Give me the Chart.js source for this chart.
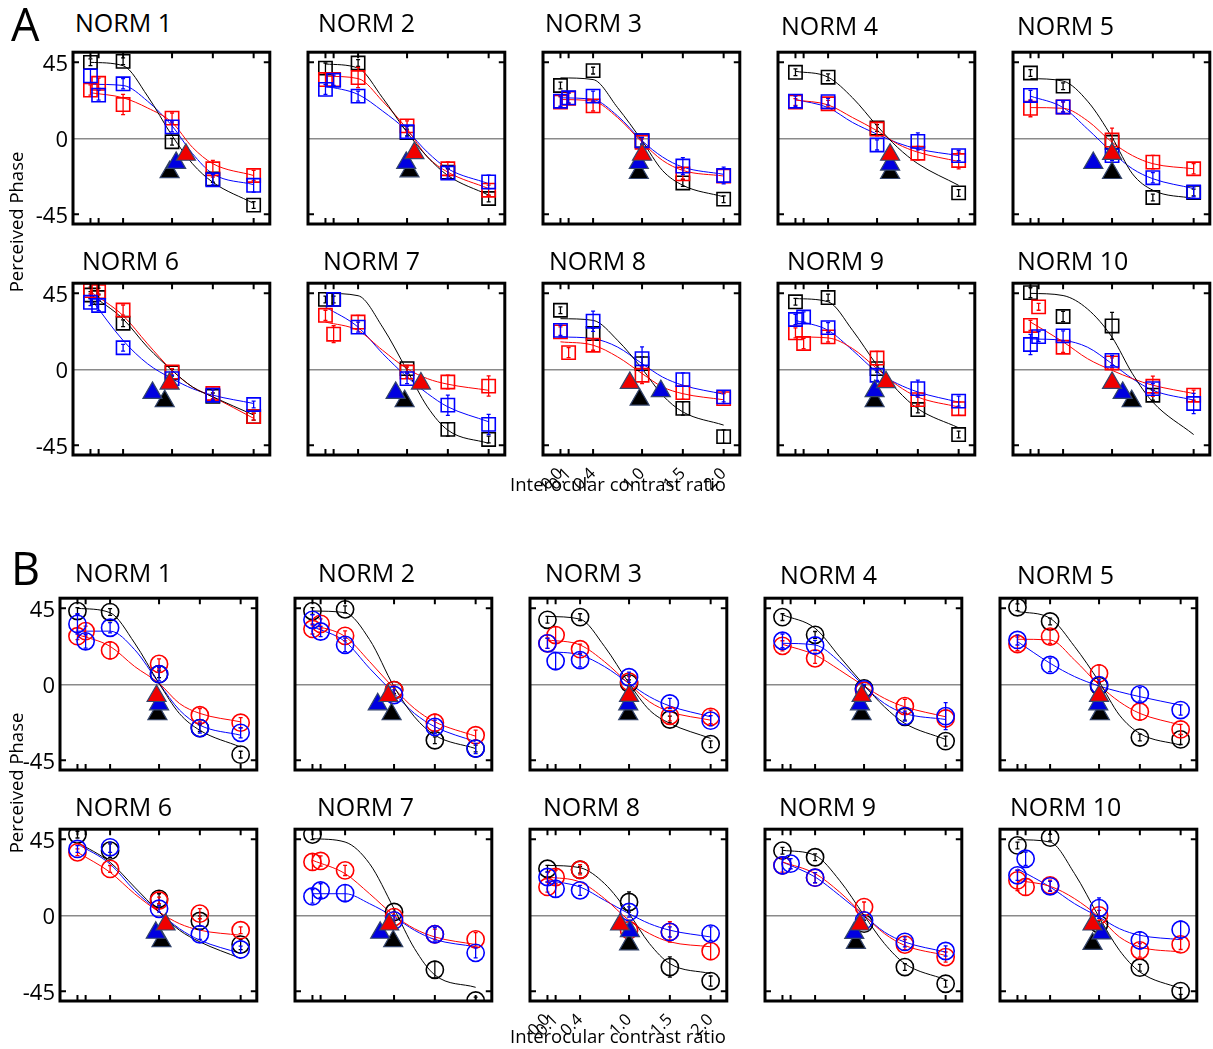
<!DOCTYPE html>
<html>
<head>
<meta charset="utf-8">
<script src="https://cdn.jsdelivr.net/npm/chart.js@4.4.1/dist/chart.umd.min.js"></script>
<style>
  body { margin: 0; background: #fff; }
  #page { position: relative; width: 1213px; height: 1049px; overflow: hidden; font-family: 'Open Sans', sans-serif; color: #000; }
  #page canvas { position: absolute; }
  .txt { position: absolute; white-space: nowrap; line-height: 1; }
</style>
</head>
<body>
<div id="page"></div>
<script>
// x levels (interocular contrast ratio) and the fitted-curve sample points
const contrastRatios = [0, 0.1, 0.4, 1.0, 1.5, 2.0];
const tickLabels = ['0.0', '0.1', '0.4', '1.0', '1.5', '2.0'];
const fitRatios = [0, 0.4, 0.7, 1.0, 1.25, 1.5, 2.0];
const phaseTicks = [-45, 0, 45];
const panelNames = ['NORM 1', 'NORM 2', 'NORM 3', 'NORM 4', 'NORM 5', 'NORM 6', 'NORM 7', 'NORM 8', 'NORM 9', 'NORM 10'];

// ---- panel A (squares) ----
const aBlack = [
  [45, null, 45.6, -2, -24, -39.5],
  [41.6, null, 44.6, 3.5, -20, -35.6],
  [31.3, null, 40.1, -1.4, -26.4, -36],
  [39.1, null, 36.2, 6.1, null, -32.3],
  [38.7, null, 30.9, -2.3, -35, -32.1],
  [44, 42.5, 27.3, -2, -16, -28],
  [41.4, 41.4, null, 0.4, -35.5, -41.5],
  [35, null, 21.2, 3.4, -23.1, -39.8],
  [40, null, 42.5, 0.4, -23.8, -38.6],
  [45.4, null, 31.3, 25.7, -15.3, null]
];
const aRed = [
  [28.6, 32.6, 20, 12, -18, -22],
  [34.8, 34.8, 36, 7.4, -18, -30.7],
  [21.5, 23.7, 19.2, -2.3, -21, -22.3],
  [21.5, null, 20.5, 5.5, -8.8, -13.1],
  [17.8, null, 18.6, -1, -14.1, -18],
  [46.6, 46, 35.1, -1.6, -14.3, -28],
  [32, 20.8, 28, -1.6, -7.5, -9.9],
  [22.2, 9.9, 14.3, -3.5, -13.8, -17.3],
  [21.6, 15.3, 19.2, 6.7, -17.9, -23.3],
  [26, 37, 13.1, 3.8, -10, -15.3]
];
const aBlue = [
  [37, 25.6, 32.3, 6.8, -24.5, -27.8],
  [29, 34.4, 25, 3.9, -20.5, -25.8],
  [22, 24, 25, -1.4, -16.4, -22],
  [22, null, 21.7, -3.9, -1.8, -10.2],
  [25.4, null, 18.6, -10.2, -23.3, -31.7],
  [39.7, 37.8, 12.8, -5.5, -15.3, -20.8],
  [null, 41.4, 25, -5.5, -21.2, -32.6],
  [23.1, null, 28.5, 6.3, -6.1, -16.3],
  [29.5, 31, 24.7, -3.5, -11.4, -18.8],
  [14.7, 19.4, 19.8, 5.3, -11.4, -20.2]
];
const aBlackErr = [
  [2, 2, 2, 2, 2, 2], [3, 2, 2, 2, 2, 2], [2, 2, 2, 2, 2, 2], [2, 2, 2, 2, 2, 2], [2, 2, 2, 2, 2, 2],
  [2, 2, 2, 2, 2, 2], [2, 2, 2, 2, 4, 2], [2, 2, 3, 4, 4, 4], [2, 2, 2, 2, 2, 2], [3, 2, 3, 8, 3, 2]
];
const aRedErr = [
  [3, 3, 6, 3, 5, 3], [4, 4, 6, 3, 4, 3], [3, 3, 3, 2, 3, 4], [2, 2, 2, 4, 4, 5], [5, 4, 3, 7, 4, 3],
  [2, 2, 3, 2, 3, 2], [3, 5, 4, 3, 4, 6], [3, 3, 3, 5, 4, 3], [3, 3, 3, 4, 3, 4], [3, 2, 3, 3, 6, 3]
];
const aBlueErr = [
  [4, 3, 3, 3, 3, 4], [3, 3, 3, 3, 3, 4], [3, 3, 3, 2, 5, 5], [3, 2, 2, 3, 5, 3], [3, 2, 3, 3, 3, 3],
  [2, 3, 2, 2, 3, 2], [3, 4, 3, 3, 6, 6], [3, 3, 6, 7, 4, 3], [3, 3, 3, 3, 5, 3], [6, 3, 3, 3, 3, 6]
];
const aBlackFit = [
  [45, 43, 25, 1.6, -15, -26, -38.5],
  [44, 41.6, 24, 3.5, -11, -22, -33.6],
  [35.8, 34.8, 18.2, -1.4, -19, -27.8, -34.6],
  [39.7, 36.2, 24, 7.4, -5.3, -15, -27.8],
  [35.4, 33.9, 22, 0.6, -21, -30.7, -35.6],
  [44.5, 29.8, 13.1, -0.6, -10.4, -16.3, -27],
  [45, 43.6, 25, -0.6, -22.2, -36, -43.8],
  [30, 29, 17.2, 0.4, -15.3, -25.2, -33],
  [41.9, 40, 23.1, 2.4, -12.4, -23.3, -34.6],
  [45, 43.7, 35.7, 19, -2.6, -19.4, -38.6]
];
const aRedFit = [
  [27, 24, 18, 9.4, -5.3, -15, -22],
  [36.8, 35.4, 22, 5.5, -11, -20, -29.7],
  [23, 22, 12.3, -2.3, -13, -19, -22.3],
  [22.7, 19.8, 12.3, 4.5, -3.3, -8.2, -13.7],
  [18.2, 17.8, 10.4, -2.3, -10.2, -15, -18],
  [46, 31.8, 15.1, -0.6, -10.4, -16.3, -29],
  [28, 23, 11.3, 0.4, -5.5, -8.8, -12.4],
  [16.3, 14.3, 7.4, -2.5, -10.4, -14.4, -18],
  [19.2, 18.6, 12.3, 0.4, -9.5, -16.4, -22.3],
  [28, 16.3, 6.3, -0.6, -5.5, -9.4, -14.3]
];
const aBlueFit = [
  [32, 31.3, 22, 7.4, -9, -21, -27.4],
  [31, 26, 16.2, 4.5, -8.2, -18, -26.8],
  [24, 23, 13.3, -1.4, -11, -17, -21.3],
  [23, 18.2, 9.4, 2.5, -2.7, -6.3, -10.2],
  [25, 18.2, 5.5, -8.2, -18, -23.9, -29.7],
  [42.1, 17.1, 3.3, -5.5, -11.4, -15.3, -20.2],
  [36.9, 25, 9.4, -4.5, -14.3, -22.2, -31],
  [19.2, 18.2, 13.2, 3.4, -4.5, -9.4, -14.7],
  [29, 23.1, 11.3, -1.6, -8.5, -13.4, -19.4],
  [18, 17.2, 13.1, 3.3, -5.5, -12.4, -18.2]
];
// triangles: [black, blue, red]
const aTriX = [
  [0.97, 1.05, 1.17], [1.03, 0.99, 1.09], [0.96, 0.96, 1.0], [1.16, 1.16, 1.16], [1.0, 0.77, 1.0],
  [0.91, 0.76, 0.97], [0.97, 0.86, 1.17], [0.97, 1.23, 0.85], [0.97, 0.97, 1.11], [1.24, 1.13, 1.0]
];
const aTriY = [
  [-20, -14.5, -9.7], [-19.5, -14.5, -8.7], [-20.5, -14.6, -9.7], [-20.5, -15.5, -9.7], [-20.5, -14.6, -9.2],
  [-18.8, -13.9, -8.4], [-18.8, -13.9, -8.4], [-17.9, -12.9, -8], [-18.8, -12.9, -7.6], [-18.8, -13.9, -8]
];

// ---- panel B (circles) ----
const bBlack = [
  [43.4, null, 42.8, 6, -25.9, -41.6],
  [43.4, null, 44.4, -3.4, -33.1, -38],
  [38.2, null, 39.8, 0.6, -20.8, -35.4],
  [39.8, null, 29.3, -2.4, -19.2, -33.6],
  [45.6, null, 37.2, -1, -31.5, -32.6],
  [47.8, null, 38.3, 9.8, -3.3, -17.3],
  [47.8, null, null, 2, -32.2, -50.4],
  [27.6, null, 27, 7.9, -30.6, -38.9],
  [38.3, null, 34.4, -4.9, -30.6, -40.5],
  [41.4, null, 46, -5.3, -31, -44.8]
];
const bRed = [
  [28.5, 31.5, 20.1, 12.1, -18.3, -22.7],
  [32.8, 35.8, 28.7, -3.4, -22.7, -30.1],
  [24.3, 29.2, 20.8, 1.6, -18.6, -19.2],
  [22.8, null, 15.4, -3.8, -12.9, -20.2],
  [23.9, null, 28.3, 6.5, -16.2, -26.7],
  [37.3, null, 27.5, 8.8, 1, -8.8],
  [31.6, 32.2, 26.6, -1, -11.2, -14.2],
  [16.8, 22.7, 27, -8.8, -9.8, -21.2],
  [29.6, null, 22.3, 4.9, -17.3, -24.7],
  [20.7, 16.8, 17.8, 0, -20.7, -17.2]
];
const bBlue = [
  [35.8, 25.5, 33.5, 6, -25.9, -28.7],
  [38.2, 31.3, 23.4, -6.3, -25.2, -38],
  [24.3, 13.8, 14.4, 4.2, -11.3, -21.5],
  [25.8, null, 23, -3, -18.8, -18.8],
  [26.3, null, 11.5, -0.4, -5.9, -15.2],
  [39.3, null, 40.3, 3.9, -11.2, -20.2],
  [11.2, 14.7, 13.2, -3, -11.2, -22.2],
  [22.7, 15.7, 14.8, 2, -9.8, -10.8],
  [29.6, 30.6, 22.3, -3, -15.7, -21.1],
  [23.7, 33.5, 17.2, 4.3, -14.8, -8.5]
];
const bBlackErr = [
  [2, 2, 2, 2, 2, 2], [2, 2, 2, 2, 2, 2], [2, 2, 2, 2, 2, 2], [2, 2, 2, 2, 2, 3], [2, 2, 2, 2, 2, 3],
  [2, 2, 4, 3, 3, 3], [3, 2, 2, 2, 5, 2], [2, 2, 2, 6, 6, 3], [2, 2, 2, 2, 2, 2], [2, 2, 2, 2, 2, 2]
];
const bRedErr = [
  [2, 3, 5, 3, 4, 3], [3, 3, 3, 3, 5, 3], [3, 5, 3, 3, 3, 4], [3, 3, 3, 2, 4, 5], [4, 3, 4, 5, 5, 3],
  [2, 2, 2, 2, 3, 2], [5, 3, 3, 3, 3, 4], [3, 4, 3, 3, 6, 5], [4, 3, 3, 3, 3, 3], [6, 5, 3, 3, 4, 3]
];
const bBlueErr = [
  [6, 4, 3, 4, 3, 3], [3, 3, 4, 3, 4, 3], [3, 5, 4, 3, 3, 3], [4, 3, 3, 3, 3, 8], [3, 3, 4, 3, 4, 3],
  [2, 2, 3, 2, 3, 2], [4, 4, 5, 3, 4, 3], [3, 5, 3, 3, 3, 4], [5, 3, 3, 3, 3, 3], [3, 4, 3, 6, 5, 5]
];
const bBlackFit = [
  [45, 42.4, 24.5, 0.6, -17.3, -27.2, -37.1],
  [43.4, 42.4, 26.5, -1.4, -19.2, -30.1, -38],
  [40.2, 38.6, 22.4, 0.6, -15.2, -23.1, -32],
  [41.2, 33.2, 16.4, -0.4, -13.3, -23.1, -32.6],
  [43.1, 39.1, 22.4, 1.6, -18.2, -29.1, -36],
  [43.2, 31.4, 16.7, 2, -8.8, -15.7, -25.5],
  [45.4, 43.4, 30.6, 3.9, -19.6, -35.3, -42.6],
  [29.6, 28.2, 18.8, 1, -16.7, -28.6, -34.5],
  [38.5, 35.5, 20.7, 0, -16.7, -28.6, -38.1],
  [44.8, 43.4, 24.7, -1, -20.7, -33.5, -43.4]
];
const bRedFit = [
  [29.5, 22.5, 10.6, 0.6, -11.3, -17.2, -22.2],
  [35.2, 28.3, 13.5, -2.4, -14.3, -22.2, -30.7],
  [26.3, 23.3, 13.4, 0.2, -10.3, -16.2, -21.2],
  [23.7, 17.4, 8.5, -1, -8.3, -13.3, -19.2],
  [26.7, 26.3, 14.4, -0.4, -10.3, -17.2, -24.1],
  [37.3, 25.5, 12.8, 2, -4.9, -8.8, -11.8],
  [32.6, 24.7, 12.8, 0, -7.9, -12.8, -17.3],
  [22.7, 19.7, 9.9, -3, -10.8, -15.7, -18.6],
  [31.6, 24.7, 13.8, 0, -10.8, -17.8, -23.7],
  [20.7, 17.2, 9.9, -1, -12.8, -18.7, -21.7]
];
const bBlueFit = [
  [31.5, 31.5, 20.6, 0.6, -15.2, -24.2, -30.1],
  [34.2, 25.3, 9.5, -5.4, -17.2, -25.1, -34],
  [19.4, 17.4, 10.5, 0.6, -7.3, -12.8, -19.2],
  [24.3, 23.3, 13.4, -1, -11.3, -17.2, -20.8],
  [25.3, 12.5, 4.6, -1, -4.4, -7.3, -12.3],
  [42.2, 30.4, 14.7, 2, -7.9, -14.7, -22.6],
  [12.8, 12.8, 6.9, -1, -8.8, -14.3, -18.6],
  [20.7, 16.8, 8.9, 1, -4.9, -8.8, -12.8],
  [31.6, 22.7, 11.8, 0, -9.9, -15.8, -21.7],
  [27.6, 16.8, 6.9, -1, -7.9, -11.8, -14.4]
];
const bTriX = [
  [0.98, 1.0, 0.97], [0.97, 0.8, 0.93], [0.99, 0.99, 1.0], [0.97, 0.95, 0.97], [1.01, 0.99, 1.0],
  [1.03, 0.96, 1.08], [0.99, 0.83, 0.94], [1.0, 1.01, 0.89], [0.9, 0.88, 0.95], [0.92, 1.03, 0.92]
];
const bTriY = [
  [-17.7, -11.8, -6.9], [-17.7, -11.8, -6.9], [-17.7, -11.8, -6.8], [-17.7, -11.8, -6.8], [-17.7, -11.8, -6.8],
  [-15.3, -10.3, -5.4], [-15.3, -10.3, -5.4], [-17.2, -9.4, -5.4], [-16.3, -10.4, -5.4], [-16.9, -10.7, -5.4]
];

// ---- layout ----
const BOX_W = 197, BOX_H = 172, PITCH = 235;
const PAD_L = 30, PAD_R = 12, PAD_T = 12, AXIS_H = 40;
const X_MIN = -0.214, X_MAX = 2.198, Y_MIN = -50.7, Y_MAX = 51;

const lineColors = { black: '#000000', red: '#ff0000', blue: '#0000ff' };
const triColors = { black: '#000000', blue: '#0000e0', red: '#f00000' };

const figures = {
  A: {
    marker: 'rect', radius: 9.4, left: 73, tops: [52, 283],
    pts: { black: aBlack, red: aRed, blue: aBlue },
    err: { black: aBlackErr, red: aRedErr, blue: aBlueErr },
    fit: { black: aBlackFit, red: aRedFit, blue: aBlueFit },
    triX: aTriX, triY: aTriY,
    titleX: [75, 318, 545, 781, 1017, 82, 323, 549, 787, 1017],
    titleTop: [14, 14, 14, 17, 17, 252, 252, 252, 252, 252],
    letterTop: 9, yTitleY: 222, xTitleY: 484
  },
  B: {
    marker: 'circle', radius: 8.6, left: 60, tops: [598, 829],
    pts: { black: bBlack, red: bRed, blue: bBlue },
    err: { black: bBlackErr, red: bRedErr, blue: bBlueErr },
    fit: { black: bBlackFit, red: bRedFit, blue: bBlueFit },
    triX: bTriX, triY: bTriY,
    titleX: [75, 318, 545, 780, 1017, 75, 317, 543, 779, 1010],
    titleTop: [564, 564, 564, 566, 566, 798, 798, 798, 798, 798],
    letterTop: 553, yTitleY: 783, xTitleY: 1036
  }
};

Chart.defaults.font.family = "'Open Sans', sans-serif";
Chart.defaults.color = '#000';

const page = document.getElementById('page');

function addText(str, style) {
  const d = document.createElement('div');
  d.className = 'txt';
  d.textContent = str;
  Object.assign(d.style, style);
  page.appendChild(d);
  return d;
}

// error bars drawn right after their marker dataset
const errorBars = {
  id: 'errorBars',
  afterDatasetDraw(chart, args) {
    const ds = chart.data.datasets[args.index];
    if (!ds.errors) return;
    const { ctx, chartArea: a } = chart;
    const y = chart.scales.y;
    ctx.save();
    ctx.beginPath();
    ctx.rect(a.left, a.top, a.width, a.height);
    ctx.clip();
    ctx.strokeStyle = ds.borderColor;
    ctx.lineWidth = 1.3;
    args.meta.data.forEach((pt, k) => {
      const v = ds.data[k].y;
      if (v == null) return;
      const e = ds.errors[k];
      const y1 = y.getPixelForValue(v + e), y2 = y.getPixelForValue(v - e);
      ctx.beginPath();
      ctx.moveTo(pt.x, y1); ctx.lineTo(pt.x, y2);
      ctx.moveTo(pt.x - 2, y1); ctx.lineTo(pt.x + 2, y1);
      ctx.moveTo(pt.x - 2, y2); ctx.lineTo(pt.x + 2, y2);
      ctx.stroke();
    });
    ctx.restore();
  }
};

// box frame and inward tick marks
const frame = {
  id: 'frame',
  afterDraw(chart) {
    const { ctx, chartArea: a, scales: { x, y } } = chart;
    ctx.save();
    ctx.strokeStyle = '#000';
    ctx.lineWidth = 2;
    ctx.beginPath();
    contrastRatios.forEach(v => {
      const px = x.getPixelForValue(v);
      ctx.moveTo(px, a.top); ctx.lineTo(px, a.top + 6);
      ctx.moveTo(px, a.bottom); ctx.lineTo(px, a.bottom - 6);
    });
    [45, -45].forEach(v => {
      const py = y.getPixelForValue(v);
      ctx.moveTo(a.left, py); ctx.lineTo(a.left + 6, py);
      ctx.moveTo(a.right, py); ctx.lineTo(a.right - 6, py);
    });
    ctx.stroke();
    ctx.lineWidth = 3;
    ctx.strokeRect(a.left, a.top, a.width, a.height);
    ctx.restore();
  }
};

function buildPanel(key, i) {
  const fig = figures[key];
  const boxLeft = fig.left + (i % 5) * PITCH;
  const boxTop = fig.tops[Math.floor(i / 5)];
  const showTicks = i === 7;

  const cv = document.createElement('canvas');
  cv.width = BOX_W + PAD_L + PAD_R;
  cv.height = PAD_T + BOX_H + AXIS_H;
  cv.style.left = (boxLeft - PAD_L) + 'px';
  cv.style.top = (boxTop - PAD_T) + 'px';
  page.appendChild(cv);

  const datasets = [];
  ['black', 'red', 'blue'].forEach(c => {
    datasets.push({
      type: 'line',
      data: fitRatios.map((x, k) => ({ x, y: fig.fit[c][i][k] })),
      borderColor: lineColors[c], borderWidth: 1,
      pointRadius: 0, cubicInterpolationMode: 'monotone', fill: false,
      order: 3, clip: 0
    });
  });
  ['black', 'red', 'blue'].forEach((c, n) => {
    datasets.push({
      type: 'line', showLine: false,
      data: contrastRatios.map((x, k) => ({ x, y: fig.pts[c][i][k] })),
      errors: fig.err[c][i],
      borderColor: lineColors[c], backgroundColor: 'rgba(0,0,0,0)',
      pointStyle: fig.marker, pointRadius: fig.radius, pointBorderWidth: 1.6,
      pointBackgroundColor: 'rgba(0,0,0,0)', pointBorderColor: lineColors[c],
      order: 2.3 - n * 0.1, clip: 0
    });
  });
  ['black', 'blue', 'red'].forEach((c, n) => {
    datasets.push({
      type: 'scatter',
      data: [{ x: fig.triX[i][n], y: fig.triY[i][n] }],
      pointStyle: 'triangle', pointRadius: 11,
      pointBackgroundColor: triColors[c], pointBorderColor: '#34456b', pointBorderWidth: 1.2,
      order: 1.3 - n * 0.1, clip: 0
    });
  });

  const chart = new Chart(cv, {
    data: { datasets },
    options: {
      responsive: false, animation: false, events: [], devicePixelRatio: 1,
      layout: { padding: { left: PAD_L, right: PAD_R, top: PAD_T, bottom: 0 } },
      plugins: { legend: { display: false }, tooltip: { enabled: false } },
      scales: {
        x: {
          type: 'linear', min: X_MIN, max: X_MAX,
          afterBuildTicks: s => { s.ticks = contrastRatios.map(v => ({ value: v })); },
          afterFit: s => { s.height = AXIS_H; },
          grid: { display: false }, border: { display: false },
          ticks: {
            display: showTicks, autoSkip: false, minRotation: 45, maxRotation: 45, padding: 1,
            font: { size: 16.5 },
            callback: (v, k) => tickLabels[k]
          }
        },
        y: {
          type: 'linear', min: Y_MIN, max: Y_MAX,
          afterBuildTicks: s => { s.ticks = phaseTicks.map(v => ({ value: v })); },
          afterFit: s => { s.width = 0; },
          border: { display: false },
          grid: {
            drawTicks: false, lineWidth: 1.5,
            color: c => (c.tick && c.tick.value === 0 ? '#8a8a8a' : 'rgba(0,0,0,0)')
          },
          ticks: { display: false }
        }
      }
    },
    plugins: [errorBars, frame]
  });

  // title
  addText(panelNames[i], { left: fig.titleX[i] + 'px', top: (fig.titleTop[i] - 4.4) + 'px', fontSize: '25px' });

  // y tick labels on the first column, placed from the chart's own y scale
  if (i % 5 === 0) {
    phaseTicks.forEach(v => {
      const py = boxTop - PAD_T + chart.scales.y.getPixelForValue(v);
      addText(String(v), {
        right: (1213 - boxLeft + 5) + 'px', top: (py - 11.7) + 'px', fontSize: '22px', textAlign: 'right'
      });
    });
  }
}

['A', 'B'].forEach(key => {
  const fig = figures[key];
  for (let i = 0; i < 10; i++) buildPanel(key, i);
  addText(key, { left: '11px', top: (fig.letterTop - 7.8) + 'px', fontSize: '45px' });
  addText('Perceived Phase', {
    left: '16px', top: fig.yTitleY + 'px', fontSize: '18.5px',
    transform: 'translate(-50%, -50%) rotate(-90deg)'
  });
  addText('Interocular contrast ratio', {
    left: '618px', top: fig.xTitleY + 'px', fontSize: '18.5px',
    transform: 'translate(-50%, -50%)'
  });
});
</script>
</body>
</html>
